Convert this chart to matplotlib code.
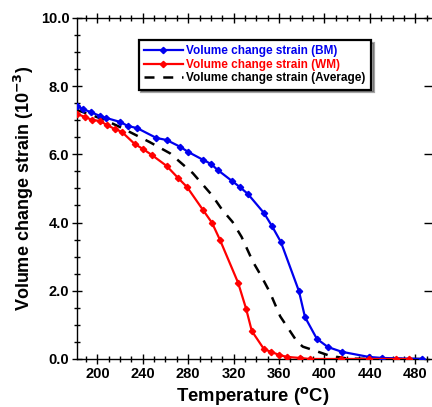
import matplotlib
matplotlib.use("Agg")
import matplotlib.pyplot as plt
from matplotlib.ticker import MultipleLocator, FixedLocator

plt.rcParams['font.family'] = ['Liberation Sans', 'DejaVu Sans']
plt.rcParams['font.weight'] = 'bold'

# Volume change strain (x 10^-3) vs temperature
bm_temp = [182, 187, 194, 202, 207.5, 220, 227, 235, 252, 261, 273, 280, 293, 300,
           306, 318.5, 325.5, 332.5, 346.7, 353.7, 361.6, 377.5, 382.8, 393.3, 403,
           415.3, 439, 450.5, 486]
bm_strain = [7.42, 7.33, 7.24, 7.13, 7.07, 6.95, 6.83, 6.77, 6.48, 6.42, 6.22, 6.07,
             5.84, 5.72, 5.54, 5.22, 5.04, 4.84, 4.28, 3.90, 3.43, 1.99, 1.23, 0.59,
             0.35, 0.21, 0.06, 0.03, 0.0]

wm_temp = [182, 189, 195, 202, 208.5, 215.5, 221.5, 233, 240, 248, 261, 271, 279,
           293, 301, 308, 324, 331, 336, 346.7, 352.8, 360, 367, 378.4, 387, 414.5,
           439, 463, 474.5]
wm_strain = [7.18, 7.10, 7.01, 6.98, 6.86, 6.74, 6.66, 6.30, 6.16, 5.98, 5.66, 5.31,
             5.04, 4.37, 3.99, 3.49, 2.23, 1.47, 0.82, 0.29, 0.21, 0.12, 0.06, 0.03,
             0.0, 0.0, 0.0, 0.0, 0.0]

avg_temp = [182, 205, 220, 246, 264, 284, 301, 310, 319, 327, 337, 344, 352, 361,
            367, 376, 381, 391, 405, 421, 450, 490]
avg_strain = [7.30, 7.03, 6.80, 6.36, 6.03, 5.45, 4.80, 4.37, 4.02, 3.58, 2.85, 2.45,
              1.95, 1.25, 0.95, 0.50, 0.36, 0.25, 0.09, 0.01, 0.0, 0.0]

x_ticks = [200, 240, 280, 320, 360, 400, 440, 480]
y_ticks = [0.0, 2.0, 4.0, 6.0, 8.0, 10.0]

fig = plt.figure(figsize=(4.32, 4.07), dpi=100)
ax = fig.add_axes([0.178, 0.118, 0.815, 0.838])

ax.plot(bm_temp, bm_strain, color='#0000ee', lw=1.6, marker='D', ms=3.2,
        label='Volume change strain (BM)', zorder=3)
ax.plot(wm_temp, wm_strain, color='#ff0000', lw=1.6, marker='D', ms=3.2,
        label='Volume change strain (WM)', zorder=3)
ax.plot(avg_temp, avg_strain, color='black', lw=1.8, ls=(0, (4, 3.5)),
        label='Volume change strain (Average)', zorder=2)

ax.set_xlim(182, 492)
ax.set_ylim(0, 10)
ax.xaxis.set_major_locator(FixedLocator(x_ticks))
ax.xaxis.set_minor_locator(MultipleLocator(10))
ax.yaxis.set_major_locator(FixedLocator(y_ticks))
ax.yaxis.set_minor_locator(MultipleLocator(0.5))
ax.set_xticklabels([str(v) for v in x_ticks])
ax.set_yticklabels(['%.1f' % v for v in y_ticks])

ax.spines['right'].set_visible(False)
for s in ['left', 'top', 'bottom']:
    ax.spines[s].set_linewidth(1.0)

ax.tick_params(which='major', direction='inout', length=7, width=1.0,
               top=True, right=True, labelsize=10.5, pad=2)
ax.tick_params(which='minor', direction='inout', length=5, width=1.0,
               top=True, right=False)
ax.tick_params(axis='y', which='major', right=True, direction='inout')

ax.set_xlabel('Temperature ($^{\\mathbf{o}}$C)', fontsize=13.3, fontweight='bold', labelpad=3)
ax.set_ylabel('Volume change strain (10$^{\\mathbf{-3}}$)', fontsize=13,
              fontweight='bold', labelpad=3)

leg = ax.legend(loc='upper left', bbox_to_anchor=(0.175, 0.935), fontsize=8.5,
                numpoints=1, handlelength=3.3, handletextpad=0.3, borderpad=0.45,
                labelspacing=0.12, frameon=True, fancybox=False, shadow=True,
                borderaxespad=0)
leg.get_frame().set_edgecolor('black')
leg.get_frame().set_linewidth(1.6)
for txt, c in zip(leg.get_texts(), ['#0000ee', '#ff0000', 'black']):
    txt.set_color(c)
    txt.set_fontweight('bold')

fig.savefig('out.png', dpi=100)
